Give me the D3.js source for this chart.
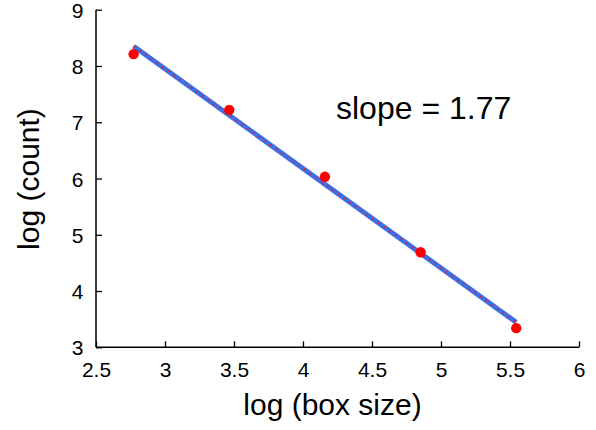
<!DOCTYPE html>
<html>
<head>
<meta charset="utf-8">
<script src="https://cdn.jsdelivr.net/npm/d3@7"></script>
<style>
  html, body { margin: 0; padding: 0; background: #fff; }
  svg { display: block; font-family: "Liberation Sans", Arial, sans-serif; }
</style>
</head>
<body>
<svg id="chart" width="596" height="430"></svg>
<script>
// Data
const logBoxSize = [2.7726, 3.4657, 4.1589, 4.8520, 5.5452];
const logCount   = [8.21, 7.22, 6.03, 4.69, 3.34];
const xTicks = [2.5, 3, 3.5, 4, 4.5, 5, 5.5, 6];
const yTicks = [3, 4, 5, 6, 7, 8, 9];
const xTitle = "log (box size)";
const yTitle = "log (count)";
const annotation = "slope = 1.77";

const svg = d3.select("#chart");
const x = d3.scaleLinear().domain([2.5, 6]).range([96, 579]);
const y = d3.scaleLinear().domain([3, 9]).range([347.3, 9.7]);

// least-squares fit
const n = logBoxSize.length;
const mx = d3.mean(logBoxSize), my = d3.mean(logCount);
let sxy = 0, sxx = 0;
for (let i = 0; i < n; i++) {
  sxy += (logBoxSize[i] - mx) * (logCount[i] - my);
  sxx += (logBoxSize[i] - mx) ** 2;
}
const b = sxy / sxx, a = my - b * mx;
const xr = d3.extent(logBoxSize);
const fit = xr.map(v => [v, a + b * v]);

// axes
const xAxis = d3.axisBottom(x).tickValues(xTicks).tickSizeInner(-6).tickSizeOuter(0)
  .tickFormat(d3.format("~g")).tickPadding(0);
const yAxis = d3.axisLeft(y).tickValues(yTicks).tickSizeInner(-6).tickSizeOuter(0)
  .tickFormat(d3.format("~g")).tickPadding(0);

const gx = svg.append("g").attr("transform", `translate(0,${y(3)})`).call(xAxis);
gx.select(".domain").attr("stroke", "#000").attr("stroke-width", 1.5).attr("d", `M${x(2.5)},0H${x(6)}`);
gx.selectAll(".tick line").attr("stroke", "#000").attr("stroke-width", 1.3);
gx.selectAll(".tick text").attr("font-size", 21).attr("fill", "#000")
  .attr("dy", null).attr("y", 29.5).attr("font-family", "Liberation Sans, Arial, sans-serif");

const gy = svg.append("g").attr("transform", `translate(${x(2.5)},0)`).call(yAxis);
gy.select(".domain").attr("stroke", "#000").attr("stroke-width", 1.5).attr("d", `M0,${y(3)}V${y(9)}`);
gy.selectAll(".tick line").attr("stroke", "#000").attr("stroke-width", 1.3);
gy.selectAll(".tick text").attr("font-size", 21).attr("fill", "#000")
  .attr("x", -12.5).attr("dy", "0.36em").attr("font-family", "Liberation Sans, Arial, sans-serif");

// fit line
const line = d3.line().x(d => x(d[0])).y(d => y(d[1]));
svg.append("path").datum(fit).attr("d", line)
  .attr("fill", "none").attr("stroke", "#3b70e6").attr("stroke-width", 5);
svg.append("path").datum(fit).attr("d", line)
  .attr("fill", "none").attr("stroke", "#e8202a").attr("stroke-width", 1.6)
  .attr("stroke-dasharray", "2,5");

// points
svg.append("g").selectAll("circle").data(logBoxSize.map((v, i) => [v, logCount[i]]))
  .join("circle")
  .attr("cx", d => x(d[0])).attr("cy", d => y(d[1])).attr("r", 5.2)
  .attr("fill", "#ff0000");

// annotation
svg.append("text").attr("x", 336).attr("y", 118.5).attr("font-size", 32)
  .attr("fill", "#000").text(annotation);

// titles
svg.append("text").attr("x", 332.5).attr("y", 415).attr("text-anchor", "middle")
  .attr("font-size", 30).attr("fill", "#000").text(xTitle);
svg.append("text").attr("transform", "translate(39,179) rotate(-90)").attr("text-anchor", "middle")
  .attr("font-size", 30).attr("fill", "#000").text(yTitle);
</script>
</body>
</html>
